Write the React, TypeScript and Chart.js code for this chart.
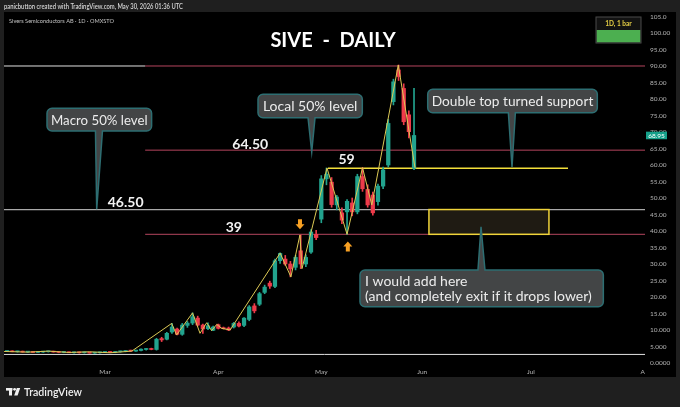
import React, { useEffect, useRef } from "react";
import { Chart, registerables } from "chart.js";

Chart.register(...registerables);

// ---- data ----
const barIdx = [-19, -18, -17, -16, -15, -14, -13, -12, -11, -10, -9, -8, -7, -6, -5, -4, -3, -2, -1, 0, 1, 2, 3, 4, 5, 6, 7, 8, 9, 10, 11, 12, 13, 14, 15, 16, 17, 18, 19, 20, 21, 22, 23, 24, 25, 26, 27, 28, 29, 30, 31, 32, 33, 34, 35, 36, 37, 38, 39, 40, 41, 42, 43, 44, 45, 46, 47, 48, 49, 50, 51, 52, 53, 54, 55, 56, 57, 58, 59, 60];
const opens = [3.5, 3.6, 3.4, 3.5, 3.3, 3.4, 3.2, 3.3, 3.4, 3.5, 3.3, 3.2, 3.3, 3.1, 3.2, 3.1, 3.2, 3.0, 3.1, 3.2, 3.3, 3.2, 3.4, 3.5, 3.7, 3.6, 3.8, 4.1, 4.3, 4.1, 7.4, 7.2, 9.4, 10.3, 8.7, 11.4, 12.1, 13.6, 11.5, 10.4, 9.9, 11.6, 10.6, 10.6, 10.9, 12.0, 11.4, 13.2, 17.3, 17.8, 21.4, 24.2, 23.2, 31.0, 31.5, 30.0, 29.0, 34.0, 30.0, 33.6, 39.0, 43.6, 55.8, 54.8, 47.9, 45.5, 45.8, 48.5, 45.8, 56.5, 52.6, 50.9, 48.9, 53.6, 60.0, 79.2, 88.8, 83.2, 75.2, 59.0];
const highs = [3.7, 3.7, 3.6, 3.6, 3.5, 3.5, 3.4, 3.5, 3.6, 3.6, 3.4, 3.4, 3.4, 3.3, 3.3, 3.3, 3.3, 3.2, 3.3, 3.4, 3.5, 3.5, 3.6, 3.8, 3.9, 3.9, 4.3, 4.4, 4.5, 7.5, 7.8, 9.3, 12.0, 10.6, 12.0, 12.6, 15.2, 14.2, 11.8, 12.2, 11.2, 11.8, 10.9, 10.9, 12.3, 12.5, 13.8, 17.4, 18.0, 21.4, 23.6, 24.8, 31.5, 33.4, 32.6, 30.8, 32.6, 38.8, 32.8, 40.4, 40.2, 56.8, 59.1, 56.2, 50.8, 47.0, 49.5, 50.0, 57.2, 59.2, 54.0, 51.8, 54.2, 59.4, 73.8, 86.0, 90.3, 84.6, 76.4, 83.2];
const lows = [3.4, 3.4, 3.3, 3.3, 3.2, 3.2, 3.1, 3.2, 3.3, 3.3, 3.1, 3.1, 3.1, 3.0, 3.0, 3.0, 3.0, 2.9, 3.0, 3.1, 3.1, 3.1, 3.3, 3.4, 3.5, 3.5, 3.7, 3.9, 4.0, 3.9, 6.5, 7.0, 9.0, 8.5, 8.4, 10.8, 11.6, 11.2, 9.0, 10.1, 9.8, 10.3, 10.3, 9.8, 10.6, 10.9, 11.0, 12.8, 15.2, 17.4, 21.0, 22.6, 22.8, 30.2, 29.6, 26.1, 28.2, 28.6, 29.2, 33.2, 37.4, 42.5, 54.0, 47.2, 46.4, 42.2, 39.0, 44.6, 45.2, 52.0, 47.2, 44.8, 47.8, 52.8, 59.4, 78.2, 85.6, 72.2, 68.2, 58.6];
const closes = [3.6, 3.4, 3.5, 3.3, 3.4, 3.2, 3.3, 3.4, 3.5, 3.3, 3.2, 3.3, 3.1, 3.2, 3.1, 3.2, 3.0, 3.1, 3.2, 3.3, 3.2, 3.4, 3.5, 3.7, 3.6, 3.8, 4.2, 4.3, 4.1, 7.2, 7.0, 9.0, 10.9, 8.7, 11.5, 12.1, 14.0, 11.5, 10.3, 11.3, 10.9, 10.5, 10.4, 10.0, 12.0, 11.2, 13.6, 17.0, 15.8, 21.0, 23.0, 23.3, 31.0, 33.2, 30.0, 28.5, 32.0, 30.0, 32.0, 39.7, 38.0, 55.8, 57.2, 48.0, 50.3, 43.3, 49.0, 45.8, 56.5, 52.8, 47.9, 45.5, 53.6, 58.5, 72.6, 85.2, 86.8, 73.1, 70.1, 68.95];

// hand-drawn zigzag path (bar index, price)
const zigIdx = [-19.6, -15.0, -11.0, -7.0, -3.0, 1.0, 5.2, 12.95, 13.9, 17.0, 18.45, 19.75, 20.7, 21.7, 22.65, 24.3, 34.0, 36.1, 37.85, 38.25, 43.1, 47.0, 50.0, 51.8, 56.95, 60.2];
const zigPrice = [3.5, 3.3, 3.6, 3.2, 3.4, 3.1, 3.6, 12.0, 8.5, 15.2, 9.0, 12.2, 9.8, 11.7, 10.5, 10.0, 33.3, 26.1, 38.8, 28.6, 59.1, 39.0, 59.2, 47.9, 90.3, 59.1];

// horizontal levels
const levelPrice = [2.6, 39, 46.5, 64.5, 90, 90];
const levelFrom = [-19.61, 7.8, -19.61, 7.8, -19.61, 7.8];
const levelTo = [104.85, 104.85, 104.85, 104.85, 7.8, 104.85];
const levelKind = ["white", "pink", "grey", "pink", "white", "pink"];
const supportPrice = 59;
const supportFrom = 43.3;
const supportTo = 89.9;

// zone box
const zoneFrom = 62.9;
const zoneTo = 86.2;
const zoneLow = 39;
const zoneHigh = 46.5;

// arrows
const arrowIdx = [37.86, 47.15];
const arrowPrice = [40.5, 36.8];
const arrowDir = ["down", "up"];

// level labels
const levelLabelText = ["46.50", "64.50", "59", "39"];
const levelLabelIdx = [4.0, 28.2, 46.9, 25.0];
const levelLabelPrice = [48.7, 66.2, 61.7, 41.0];

// axes
const monthPos = [0, 22, 42, 61.6, 82.7, 104.4];
const monthLabels = ["Mar", "Apr", "May", "Jun", "Jul", "A"];
const priceTicks = [0, 5, 10, 15, 20, 25, 30, 35, 40, 45, 50, 55, 60, 65, 70, 75, 80, 85, 90, 95, 100, 105];
const priceTickLabels = ["0.0000", "5.000", "10.000", "15.00", "20.00", "25.00", "30.00", "35.00", "40.00", "45.00", "50.00", "55.00", "60.00", "65.00", "70.00", "75.00", "80.00", "85.00", "90.00", "95.00", "100.00", "105.0"];
const lastPrice = 68.95;

// callouts (data coordinates)
const callouts = [
  { lines: ["Macro 50% level"], box: [-11.26, 9.05, 77.2, 70.3], tip: [-1.61, 46.6], base: -1.17, align: "center" },
  { lines: ["Local 50% level"], box: [29.71, 49.96, 81.42, 74.33], tip: [40.14, 64.0], base: 40.1, align: "center" },
  { lines: ["Double top turned support"], box: [62.66, 95.59, 82.94, 75.85], tip: [79.03, 59.4], base: 79.0, align: "center" },
  { lines: ["I would add here", "(and completely exit if it drops lower)"], box: [49.51, 96.76, 28.18, 17.06], tip: [73.01, 41.3], base: 73.1, align: "left" },
];

const X_MIN = -19.61;
const X_MAX = 104.85;
const Y_MIN = -0.3;
const Y_MAX = 106.36;

const GREEN = "#22a38e";
const RED = "#ee3b4a";
const FONT = "Lato, 'Open Sans', sans-serif";

function drawCallout(ctx: CanvasRenderingContext2D, xs: any, ys: any, c: any) {
  const x1 = xs.getPixelForValue(c.box[0]);
  const x2 = xs.getPixelForValue(c.box[1]);
  const y1 = ys.getPixelForValue(c.box[2]);
  const y2 = ys.getPixelForValue(c.box[3]);
  const tx = xs.getPixelForValue(c.tip[0]);
  const ty = ys.getPixelForValue(c.tip[1]);
  const bx = xs.getPixelForValue(c.base);
  const r = 5;
  const hw = 3.5;
  const below = ty > y2;
  ctx.save();
  ctx.beginPath();
  ctx.moveTo(x1 + r, y1);
  if (!below) {
    ctx.lineTo(bx - hw, y1);
    ctx.lineTo(tx, ty);
    ctx.lineTo(bx + hw, y1);
  }
  ctx.lineTo(x2 - r, y1);
  ctx.arcTo(x2, y1, x2, y1 + r, r);
  ctx.lineTo(x2, y2 - r);
  ctx.arcTo(x2, y2, x2 - r, y2, r);
  if (below) {
    ctx.lineTo(bx + hw, y2);
    ctx.lineTo(tx, ty);
    ctx.lineTo(bx - hw, y2);
  }
  ctx.lineTo(x1 + r, y2);
  ctx.arcTo(x1, y2, x1, y2 - r, r);
  ctx.lineTo(x1, y1 + r);
  ctx.arcTo(x1, y1, x1 + r, y1, r);
  ctx.closePath();
  ctx.fillStyle = "#434546";
  ctx.fill();
  ctx.lineWidth = 1.5;
  ctx.strokeStyle = "#2d6e72";
  ctx.stroke();
  ctx.fillStyle = "#ececec";
  ctx.font = `14px ${FONT}`;
  ctx.textBaseline = "middle";
  const n = c.lines.length;
  const lh = 15;
  const cy = (y1 + y2) / 2;
  c.lines.forEach((t: string, i: number) => {
    const yy = cy + (i - (n - 1) / 2) * lh + 0.5;
    if (c.align === "left") {
      ctx.textAlign = "left";
      ctx.fillText(t, x1 + 5, yy, x2 - x1 - 8);
    } else {
      ctx.textAlign = "center";
      ctx.fillText(t, (x1 + x2) / 2, yy, x2 - x1 - 8);
    }
  });
  ctx.restore();
}

const framePlugin = {
  id: "frame",
  beforeDraw(chart: any) {
    const ctx = chart.ctx as CanvasRenderingContext2D;
    ctx.save();
    ctx.fillStyle = "#1f1f1f";
    ctx.fillRect(0, 0, 680, 407);
    ctx.fillStyle = "#000000";
    ctx.fillRect(4, 12, 672, 365);
    // header
    ctx.fillStyle = "#d6d6d6";
    ctx.font = `600 7px ${FONT}`;
    ctx.textBaseline = "middle";
    ctx.textAlign = "left";
    ctx.fillText("panicbutton created with TradingView.com, May 30, 2026 01:36 UTC", 4, 7, 179);
    // footer logo
    ctx.fillStyle = "#f0f0f0";
    ctx.fillRect(6, 388, 6.5, 2.6);
    ctx.fillRect(9, 388, 3, 7.5);
    ctx.beginPath();
    ctx.arc(14.6, 389.3, 1.4, 0, Math.PI * 2);
    ctx.fill();
    ctx.beginPath();
    ctx.moveTo(16.8, 388);
    ctx.lineTo(20.2, 388);
    ctx.lineTo(17.6, 395.5);
    ctx.lineTo(14.2, 395.5);
    ctx.closePath();
    ctx.fill();
    ctx.font = `600 12px ${FONT}`;
    ctx.fillText("TradingView", 24, 392, 58);
    ctx.restore();
  },
  afterDatasetsDraw(chart: any) {
    const ctx = chart.ctx as CanvasRenderingContext2D;
    const xs = chart.scales.x;
    const ys = chart.scales.y;
    ctx.save();
    // subtitle + title
    ctx.fillStyle = "#c4c4c4";
    ctx.font = `6.5px ${FONT}`;
    ctx.textAlign = "left";
    ctx.textBaseline = "middle";
    ctx.fillText("Sivers Semiconductors AB · 1D · OMXSTO", 9, 20.5, 105);
    ctx.fillStyle = "#ffffff";
    ctx.font = `bold 20px ${FONT}`;
    ctx.textAlign = "center";
    ctx.fillText("SIVE  -  DAILY", 333, 41);

    // zone box
    const bx1 = xs.getPixelForValue(zoneFrom);
    const bx2 = xs.getPixelForValue(zoneTo);
    const by1 = ys.getPixelForValue(zoneHigh);
    const by2 = ys.getPixelForValue(zoneLow);
    ctx.fillStyle = "#1f1b13";
    ctx.fillRect(bx1, by1, bx2 - bx1, by2 - by1);
    ctx.strokeStyle = "#f0d43a";
    ctx.lineWidth = 1.5;
    ctx.strokeRect(bx1, by1, bx2 - bx1, by2 - by1);

    // arrows
    ctx.fillStyle = "#f7a023";
    arrowIdx.forEach((xv, i) => {
      const px = xs.getPixelForValue(xv);
      const py = ys.getPixelForValue(arrowPrice[i]);
      const s = arrowDir[i] === "down" ? -1 : 1;
      ctx.beginPath();
      ctx.moveTo(px, py);
      ctx.lineTo(px + 4.5, py + s * 5);
      ctx.lineTo(px + 2, py + s * 5);
      ctx.lineTo(px + 2, py + s * 10);
      ctx.lineTo(px - 2, py + s * 10);
      ctx.lineTo(px - 2, py + s * 5);
      ctx.lineTo(px - 4.5, py + s * 5);
      ctx.closePath();
      ctx.fill();
    });

    // level labels
    ctx.fillStyle = "#f2f2f2";
    ctx.font = `bold 14px ${FONT}`;
    ctx.textAlign = "center";
    ctx.textBaseline = "middle";
    levelLabelText.forEach((t, i) => {
      ctx.fillText(t, xs.getPixelForValue(levelLabelIdx[i]), ys.getPixelForValue(levelLabelPrice[i]));
    });

    // callouts
    callouts.forEach((c) => drawCallout(ctx, xs, ys, c));
    ctx.restore();
  },
  afterDraw(chart: any) {
    const ctx = chart.ctx as CanvasRenderingContext2D;
    const ys = chart.scales.y;
    ctx.save();
    // last price tag
    const py = ys.getPixelForValue(lastPrice);
    ctx.fillStyle = "#15a08a";
    ctx.fillRect(646, py - 3.8, 21, 7.6);
    ctx.fillStyle = "#ffffff";
    ctx.font = `6.5px ${FONT}`;
    ctx.textAlign = "center";
    ctx.textBaseline = "middle";
    ctx.fillText(lastPrice.toFixed(2), 656.5, py + 0.3);
    // interval widget
    ctx.fillStyle = "#121212";
    ctx.fillRect(596, 17, 45, 13);
    ctx.fillStyle = "#4caf50";
    ctx.fillRect(596.5, 30, 44, 12.5);
    ctx.strokeStyle = "#4a4a4a";
    ctx.lineWidth = 1;
    ctx.strokeRect(596, 17, 45, 26);
    ctx.fillStyle = "#e6cf45";
    ctx.font = `bold 6.5px ${FONT}`;
    ctx.fillText("1D, 1 bar", 618.5, 23.5);
    ctx.restore();
  },
};

export default function App() {
  const ref = useRef<HTMLCanvasElement | null>(null);
  useEffect(() => {
    const canvas = ref.current;
    if (!canvas) return;
    const candleColors = barIdx.map((_, i) => (closes[i] >= opens[i] ? GREEN : RED));
    const levelColor: Record<string, string> = { white: "#e2e2e2", pink: "#b5455e", grey: "#a9a9a9" };
    const levelSets = levelPrice.map((p, i) => ({
      type: "line" as const,
      label: "level" + i,
      data: [
        { x: levelFrom[i], y: p },
        { x: levelTo[i], y: p },
      ],
      borderColor: levelColor[levelKind[i]],
      borderWidth: levelKind[i] === "grey" ? 1.3 : 1,
      pointRadius: 0,
      fill: false,
      order: 4,
    }));
    const chart = new Chart(canvas, {
      type: "bar",
      data: {
        datasets: [
          {
            type: "line",
            label: "zigzag",
            data: zigIdx.map((x, i) => ({ x, y: zigPrice[i] })),
            borderColor: "#dcc955",
            borderWidth: 1,
            pointRadius: 0,
            fill: false,
            tension: 0,
            order: 0,
          },
          {
            type: "bar",
            label: "bodies",
            data: barIdx.map((x, i) => ({ x, y: [opens[i], closes[i]] })) as any,
            backgroundColor: candleColors,
            barThickness: 3.6,
            minBarLength: 1,
            grouped: false,
            borderWidth: 0,
            order: 1,
          },
          {
            type: "bar",
            label: "wicks",
            data: barIdx.map((x, i) => ({ x, y: [lows[i], highs[i]] })) as any,
            backgroundColor: candleColors,
            barThickness: 1,
            grouped: false,
            borderWidth: 0,
            order: 2,
          },
          {
            type: "line",
            label: "support",
            data: [
              { x: supportFrom, y: supportPrice },
              { x: supportTo, y: supportPrice },
            ],
            borderColor: "#f3df3a",
            borderWidth: 1.6,
            pointRadius: 0,
            fill: false,
            order: 3,
          },
          ...levelSets,
        ] as any,
      },
      options: {
        animation: false,
        responsive: false,
        events: [],
        layout: { padding: { left: 4, top: 12, right: 0, bottom: 30 } },
        plugins: { legend: { display: false }, tooltip: { enabled: false } },
        scales: {
          x: {
            type: "linear",
            position: "bottom",
            offset: false,
            min: X_MIN,
            max: X_MAX,
            grid: { display: false, drawTicks: false, offset: false },
            border: { display: false },
            afterBuildTicks: (s: any) => {
              s.ticks = monthPos.map((v) => ({ value: v }));
            },
            afterFit: (s: any) => {
              s.height = 13;
            },
            ticks: {
              autoSkip: false,
              minRotation: 0,
              maxRotation: 0,
              padding: 4,
              color: "#b4b4b4",
              font: { size: 6.5, family: FONT },
              callback: (_v: any, i: number) => monthLabels[i],
            },
          },
          y: {
            type: "linear",
            position: "right",
            min: Y_MIN,
            max: Y_MAX,
            grid: { display: false, drawTicks: false },
            border: { display: false },
            afterBuildTicks: (s: any) => {
              s.ticks = priceTicks.map((v) => ({ value: v }));
            },
            afterFit: (s: any) => {
              s.width = 35;
            },
            ticks: {
              autoSkip: false,
              padding: 5,
              color: "#b4b4b4",
              font: { size: 6.5, family: FONT },
              callback: (_v: any, i: number) => priceTickLabels[i],
            },
          },
        },
      } as any,
      plugins: [framePlugin],
    });
    return () => chart.destroy();
  }, []);
  return (
    <div style={{ position: "fixed", left: 0, top: 0, width: 680, height: 407, background: "#1f1f1f" }}>
      <canvas ref={ref} width={680} height={407} style={{ display: "block", width: 680, height: 407 }} />
    </div>
  );
}
